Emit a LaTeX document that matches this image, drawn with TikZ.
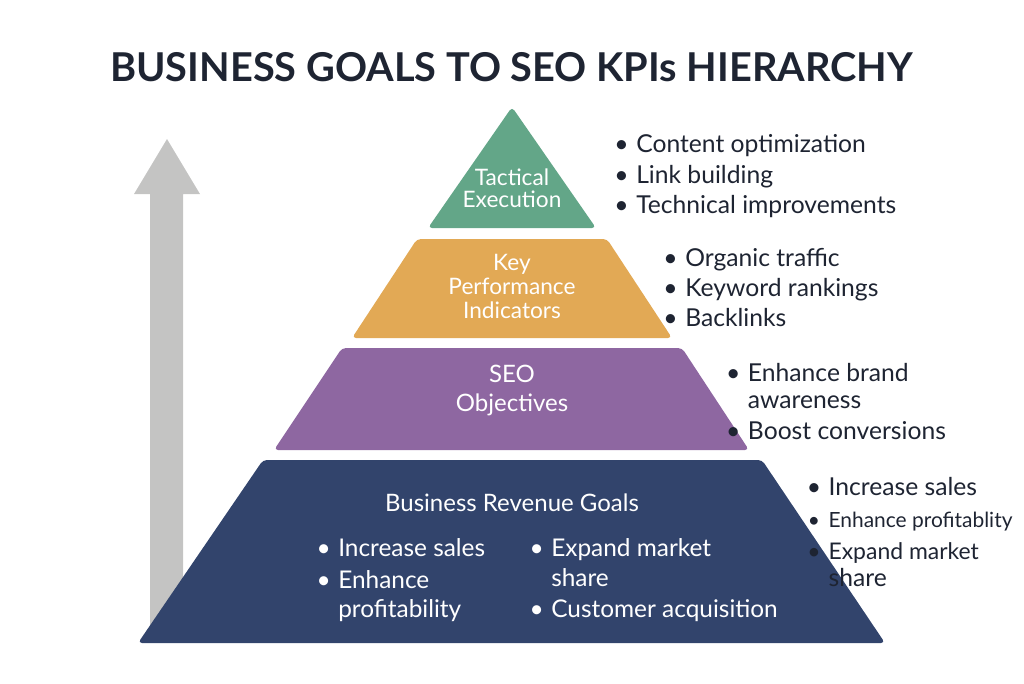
\documentclass[tikz,border=0pt]{standalone}
\usepackage{fontspec}
\setmainfont{Lato}
\usetikzlibrary{positioning}
\definecolor{tactgreen}{HTML}{63A688}
\definecolor{kpiorange}{HTML}{E2A955}
\definecolor{seopurple}{HTML}{8E67A1}
\definecolor{bizblue}{HTML}{32446C}
\definecolor{arrowgrey}{HTML}{C4C4C3}
\definecolor{inkdark}{HTML}{1E2432}
\newcommand{\bul}{\llap{\makebox[22pt][c]{\textbullet}}}
\tikzset{
  layer/.style={rounded corners=3pt},
  inlabel/.style={text=white,inner sep=0,anchor=base,font=\fontsize{17}{20}\selectfont},
  inlist/.style={text=white,inner sep=0,anchor=base west,font=\fontsize{18.3}{22}\selectfont},
  sidelist/.style={text=inkdark,inner sep=0,anchor=base west,font=\fontsize{18.5}{22}\selectfont}
}
\begin{document}
\begin{tikzpicture}[x=0.75pt,y=-0.75pt]
  \useasboundingbox (0,0) rectangle (1024,683);
  \node[text=inkdark,inner sep=0,anchor=base,font=\fontsize{29.8}{34}\selectfont\bfseries] (title) at (511.5,81.7) {BUSINESS GOALS TO SEO KPIs HIERARCHY};
  % rising arrow
  \fill[arrowgrey] (150,630) -- (150,194) -- (134,194) -- (167,139) -- (200,194) -- (183,194) -- (183,630) -- cycle;
  % pyramid layers
  \fill[tactgreen,layer] (428,228) -- (512,107) -- (596,228) -- cycle;
  \fill[kpiorange,layer] (352,338) -- (417,239) -- (607,239) -- (672,338) -- cycle;
  \fill[seopurple,layer] (274,450) -- (342,348) -- (682,348) -- (749,450) -- cycle;
  \fill[bizblue,layer] (138,643) -- (263,460) -- (762,460) -- (885,643) -- cycle;
  % layer labels
  \node[inlabel] (tact1) at (512,185) {Tactical};
  \node[inlabel] (tact2) at (512,207.7) {Execution};
  \node[inlabel] (kpi1) at (512,270.7) {Key};
  \node[inlabel] (kpi2) at (512,294.3) {Performance};
  \node[inlabel] (kpi3) at (512,318.3) {Indicators};
  \node[inlabel,font=\fontsize{18}{21}\selectfont] (seo1) at (512,382.3) {SEO};
  \node[inlabel,font=\fontsize{18}{21}\selectfont] (seo2) at (512,411.7) {Objectives};
  \node[inlabel,font=\fontsize{18}{21}\selectfont] (biz) at (512,511.7) {Business Revenue Goals};
  \node[inlist] (bizA) at (338,556) {\bul Increase sales};
  \node[inlist] (bizB) at (338,588.3) {\bul Enhance};
  \node[inlist] (bizC) at (338,617.3) {profitability};
  \node[inlist] (bizD) at (551,556) {\bul Expand market};
  \node[inlist] (bizE) at (551,586) {share};
  \node[inlist] (bizF) at (551,617.3) {\bul Customer acquisition};
  % side notes
  \node[sidelist] (tactA) at (636,152.7) {\bul Content optimization};
  \node[sidelist] (tactB) at (636,183.3) {\bul Link building};
  \node[sidelist] (tactC) at (636,213.3) {\bul Technical improvements};
  \node[sidelist] (kpiA) at (685,266.7) {\bul Organic traffic};
  \node[sidelist] (kpiB) at (685,296.7) {\bul Keyword rankings};
  \node[sidelist] (kpiC) at (685,326.7) {\bul Backlinks};
  \node[sidelist] (seoA) at (747.7,381.7) {\bul Enhance brand};
  \node[sidelist] (seoB) at (747.7,408.3) {awareness};
  \node[sidelist] (seoC) at (747.7,439.3) {\bul Boost conversions};
  \node[sidelist] (bizG) at (828.3,495) {\bul Increase sales};
  \node[sidelist,font=\fontsize{15.7}{19}\selectfont] (bizH) at (828.3,527.3) {\bul Enhance profitablity};
  \node[sidelist,font=\fontsize{17.2}{21}\selectfont] (bizI) at (828.3,559.3) {\bul Expand market};
  \node[sidelist] (bizJ) at (828.3,586) {share};
\end{tikzpicture}
\end{document}
